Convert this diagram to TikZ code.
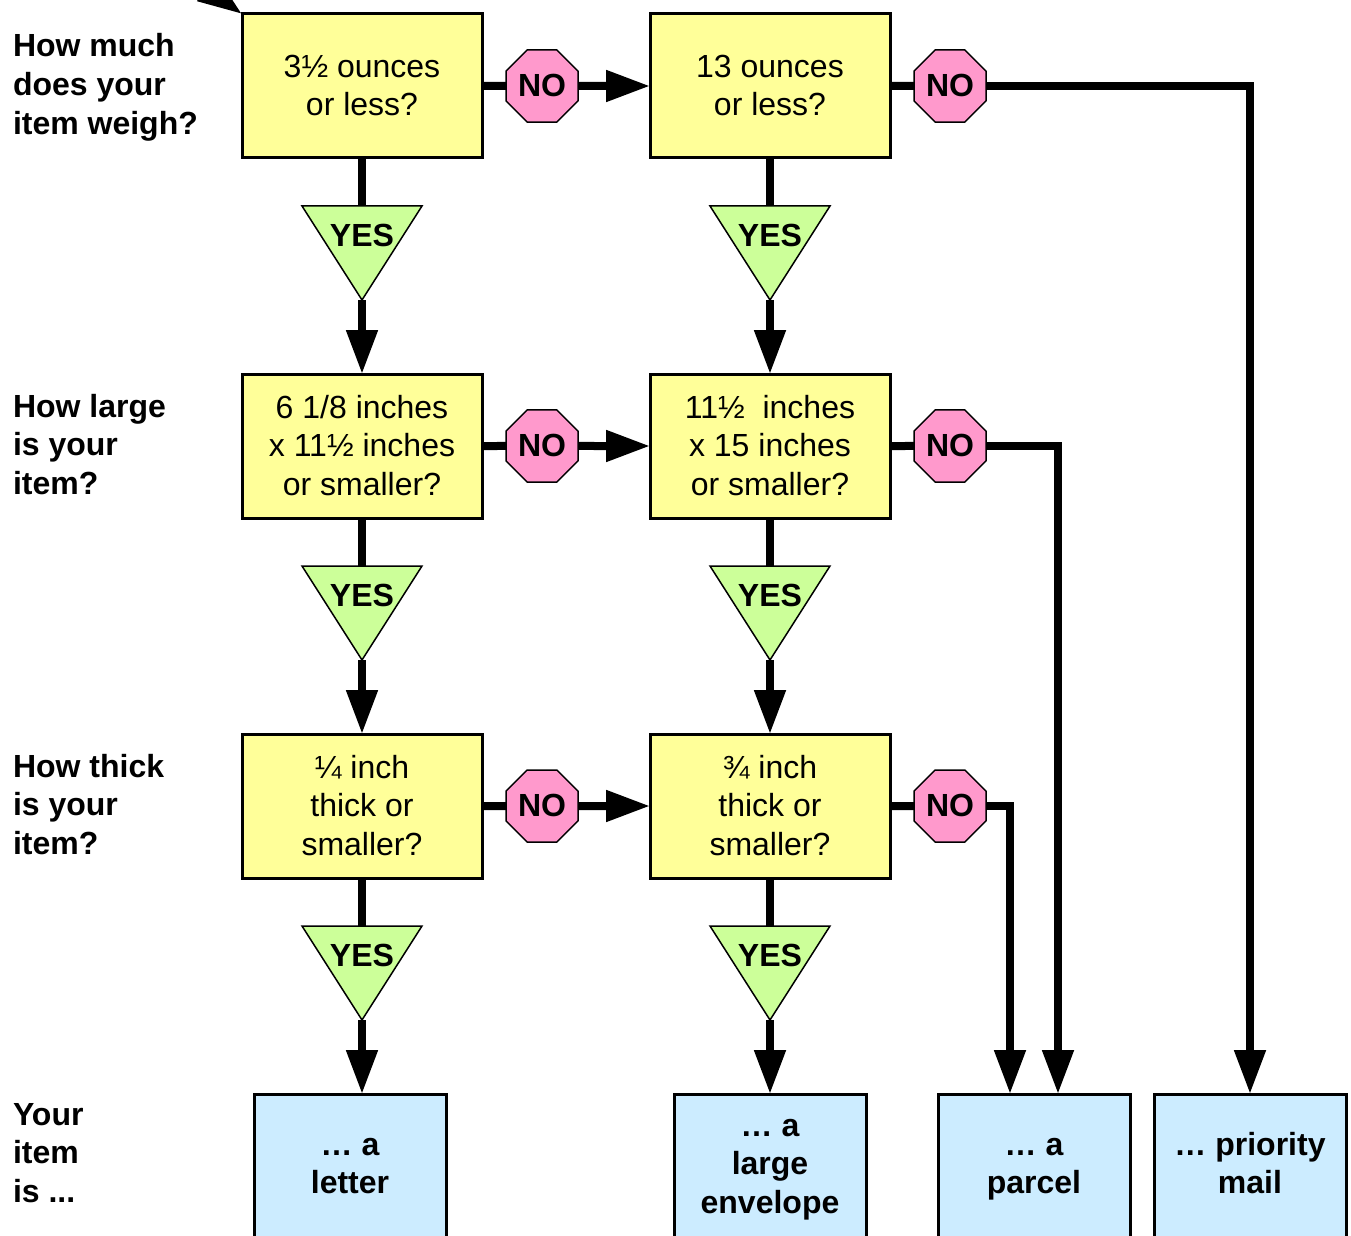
\documentclass[tikz,border=0pt]{standalone}
\usepackage{fontspec}
\usepackage{tikz}
\usetikzlibrary{shapes.geometric,arrows.meta}
\setmainfont{Liberation Sans}
\newcommand{\topstrut}{\vrule width 0pt height 14.2pt depth 0pt}
\newcommand{\botstrut}{\vrule width 0pt height 0pt depth 3.6pt}
\newcommand{\deepstrut}{\vrule width 0pt height 0pt depth 5.6pt}

\begin{document}
\begin{tikzpicture}[x=0.5pt, y=-0.5pt,
		txt/.style={font=\fontsize{16}{19.3}\selectfont, align=center, inner sep=0pt, outer sep=0pt, execute at end node=\botstrut},
		bold/.style={txt, font=\fontsize{16}{19.3}\selectfont\bfseries},
		ask/.style={txt, draw, line width=1.5pt, fill=askfill, minimum width=120pt, minimum height=72pt},
		res/.style={bold, draw, line width=1.5pt, fill=resfill, minimum width=96pt, minimum height=72pt, execute at end node=\deepstrut},
		side/.style={bold, align=left, anchor=west},
		no/.style={bold, draw, line width=0.75pt, fill=nofill, regular polygon, regular polygon sides=8, minimum size=38.97pt},
		yes/.style={draw, line width=0.75pt, fill=yesfill, isosceles triangle, isosceles triangle stretches, shape border rotate=-90, minimum width=60pt, minimum height=47pt, inner sep=0pt, outer sep=0pt, anchor=lower side},
		line/.style={line width=4pt},
		arr/.style={line width=4pt, -{Triangle[length=22pt,width=15pt]}}]
	\definecolor{askfill}{HTML}{FFFF99}
	\definecolor{resfill}{HTML}{CCECFF}
	\definecolor{nofill}{HTML}{FF99CC}
	\definecolor{yesfill}{HTML}{CCFF99}
	\useasboundingbox (0, 0) rectangle (1351, 1236);

	\path (13, 85) node[side] (weigh){\topstrut How much\\does your\\item weigh?}
	(13, 445) node[side] (large){\topstrut How large\\is your\\item?}
	(13, 805) node[side] (thick){\topstrut How thick\\is your\\item?}
	(13, 1153) node[side] (your){\topstrut Your\\item\\is ...};

	\path (362, 86) node[ask] (a1){\topstrut 3½ ounces\\or less?}
	(770, 86) node[ask] (b1){\topstrut 13 ounces\\or less?}
	(362, 446) node[ask] (a2){\topstrut 6 1/8 inches\\x 11½ inches\\or smaller?}
	(770, 446) node[ask] (b2){\topstrut 11½\ \ inches\\x 15 inches\\or smaller?}
	(362, 806) node[ask] (a3){\topstrut ¼ inch\\thick or\\smaller?}
	(770, 806) node[ask] (b3){\topstrut ¾ inch\\thick or\\smaller?};

	\path (542, 86) node[no] (na1){\topstrut NO}
	(950, 86) node[no] (nb1){\topstrut NO}
	(542, 446) node[no] (na2){\topstrut NO}
	(950, 446) node[no] (nb2){\topstrut NO}
	(542, 806) node[no] (na3){\topstrut NO}
	(950, 806) node[no] (nb3){\topstrut NO};

	\path (362, 206) node[yes] (ya1){}
	(770, 206) node[yes] (yb1){}
	(362, 566) node[yes] (ya2){}
	(770, 566) node[yes] (yb2){}
	(362, 926) node[yes] (ya3){}
	(770, 926) node[yes] (yb3){};

	\path (362, 236) node[bold] (tya1){\topstrut YES}
	(770, 236) node[bold] (tyb1){\topstrut YES}
	(362, 596) node[bold] (tya2){\topstrut YES}
	(770, 596) node[bold] (tyb2){\topstrut YES}
	(362, 956) node[bold] (tya3){\topstrut YES}
	(770, 956) node[bold] (tyb3){\topstrut YES};

	\path (350, 1166) node[res] (letter){\topstrut … a\\letter}
	(770, 1166) node[res] (envelope){\topstrut … a\\large\\envelope}
	(1034, 1166) node[res] (parcel){\topstrut … a\\parcel}
	(1250, 1166) node[res] (mail){\topstrut … priority\\mail};

	\coordinate (start) at (142, -59);
	\draw[arr] (start) -- (a1.north west);

	\draw[line] (a1) -- (na1) (b1) -- (nb1) (a2) -- (na2) (b2) -- (nb2) (a3) -- (na3) (b3) -- (nb3);
	\draw[arr] (na1) -- (b1);
	\draw[arr] (na2) -- (b2);
	\draw[arr] (na3) -- (b3);

	\draw[line] (a1) -- (ya1) (b1) -- (yb1) (a2) -- (ya2) (b2) -- (yb2) (a3) -- (ya3) (b3) -- (yb3);
	\draw[arr] (ya1.apex) -- (a2);
	\draw[arr] (yb1.apex) -- (b2);
	\draw[arr] (ya2.apex) -- (a3);
	\draw[arr] (yb2.apex) -- (b3);
	\draw[arr] (ya3.apex) -- ([xshift=6pt]letter.north);
	\draw[arr] (yb3.apex) -- (envelope);

	\draw[arr] (nb1) -| (mail);
	\draw[arr] (nb2) -| ([xshift=12pt]parcel.north);
	\draw[arr] (nb3) -| ([xshift=-12pt]parcel.north);
\end{tikzpicture}
\end{document}
